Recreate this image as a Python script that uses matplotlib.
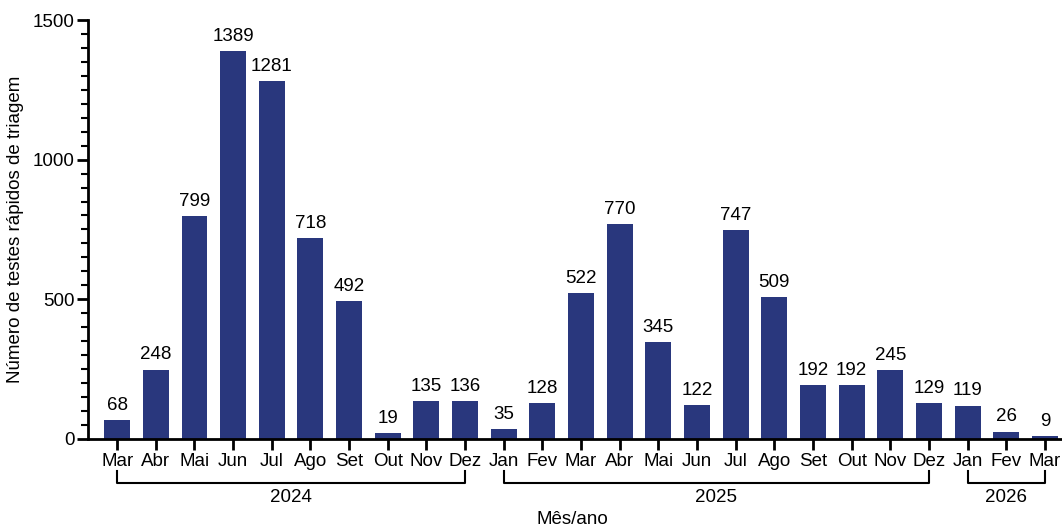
import matplotlib.pyplot as plt
import matplotlib.transforms as mtransforms
from matplotlib.ticker import MultipleLocator

plt.rcParams['font.family'] = ['Liberation Sans', 'DejaVu Sans']

# Dados (testes rápidos por mês)
months = ['Mar', 'Abr', 'Mai', 'Jun', 'Jul', 'Ago', 'Set', 'Out', 'Nov', 'Dez',
          'Jan', 'Fev', 'Mar', 'Abr', 'Mai', 'Jun', 'Jul', 'Ago', 'Set', 'Out', 'Nov', 'Dez',
          'Jan', 'Fev', 'Mar']
values = [68, 248, 799, 1389, 1281, 718, 492, 19, 135, 136,
          35, 128, 522, 770, 345, 122, 747, 509, 192, 192, 245, 129,
          119, 26, 9]
years = ['2024', '2025', '2026']
year_counts = [10, 12, 3]

BAR_COLOR = '#29377d'
FS = 13.5

fig = plt.figure(figsize=(10.62, 5.28), dpi=100)
ax = fig.add_axes([0.083, 0.169, 0.917, 0.793])

x = list(range(len(values)))
ax.bar(x, values, width=0.67, color=BAR_COLOR)
for xi, v in zip(x, values):
    ax.text(xi, v + 22, str(v), ha='center', va='bottom', fontsize=FS)

ax.set_xlim(-0.75, len(values) - 0.56)
ax.set_ylim(0, 1500)
ax.yaxis.set_major_locator(MultipleLocator(500))
ax.yaxis.set_minor_locator(MultipleLocator(50))
ax.set_xticks(x)
ax.set_xticklabels(months, fontsize=FS)
ax.tick_params(axis='y', labelsize=FS, width=2, length=8, pad=2)
ax.tick_params(axis='y', which='minor', width=1.5, length=5)
ax.tick_params(axis='x', width=2, length=8, pad=2)

for s in ['top', 'right']:
    ax.spines[s].set_visible(False)
for s in ['left', 'bottom']:
    ax.spines[s].set_linewidth(2)

ax.set_ylabel('Número de testes rápidos de triagem', fontsize=FS, labelpad=6)

# Colchetes dos anos
trans = mtransforms.blended_transform_factory(ax.transData, fig.transFigure)
start = 0
for year, n in zip(years, year_counts):
    x0, x1 = start, start + n - 1
    ax.plot([x0, x0, x1, x1], [0.108, 0.085, 0.085, 0.108], color='black',
            lw=1.5, transform=trans, clip_on=False)
    ax.text((x0 + x1) / 2, 0.058, year, ha='center', va='center',
            fontsize=FS, transform=trans)
    start += n

fig.text(0.539, 0.016, 'Mês/ano', ha='center', va='center', fontsize=FS)

fig.savefig('out.png', dpi=100)
